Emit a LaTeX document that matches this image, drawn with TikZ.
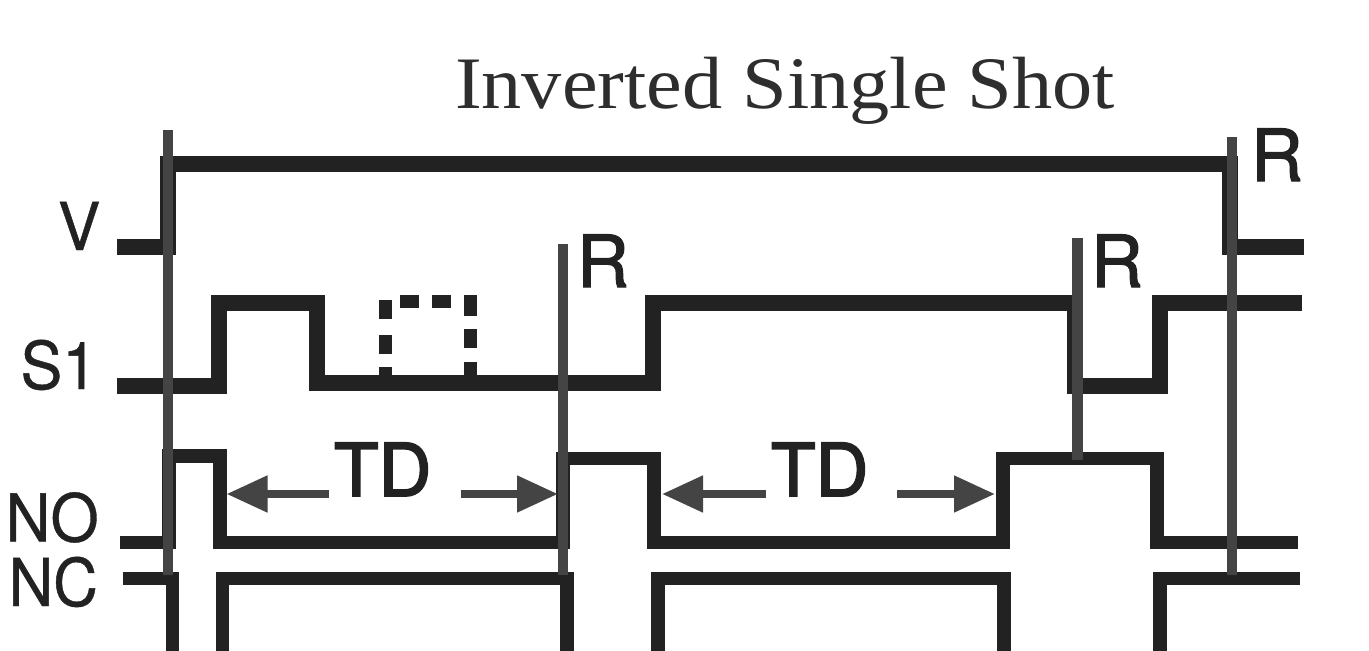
\documentclass[tikz,border=0pt]{standalone}
\usepackage{graphicx}
\usepackage{fontspec}
\setmainfont{Liberation Serif}
\newfontfamily\heros[FakeBold=0.6]{TeX Gyre Heros}
\newfontfamily\herosb[FakeBold=1.6]{TeX Gyre Heros}
\newfontfamily\herosc[FakeBold=2.4]{TeX Gyre Heros}
\usetikzlibrary{arrows.meta}
\definecolor{wave}{HTML}{222222}
\definecolor{mark}{HTML}{444444}
\tikzset{
  wavepath/.style={draw=wave,line width=16pt,miter limit=10},
  wavethin/.style={draw=wave,line width=13.5pt,miter limit=10},
  dotseg/.style={draw=wave,line width=13pt},
  resetline/.style={draw=mark,line width=10.5pt},
  tdarrow/.style={draw=mark,line width=8pt,-{Triangle[length=41pt,width=35pt]},fill=mark},
  lab/.style={inner sep=0pt,outer sep=0pt,anchor=base west,text=wave},
}
\begin{document}
\begin{tikzpicture}[x=1pt,y=-1pt]
\useasboundingbox (0,0) rectangle (1369,651);
\fill[white] (0,0) rectangle (1369,651);
% waveforms
\draw[wavepath] (117,246.7) -- (168,246.7) -- (168,164) -- (1229.6,164) -- (1229.6,246.7) -- (1304,246.7);
\draw[wavepath] (117,385.5) -- (218.7,385.5) -- (218.7,303) -- (317,303) -- (317,383) -- (653,383) -- (653,303) -- (1074.7,303) -- (1074.7,385.5) -- (1160,385.5) -- (1160,303) -- (1301.7,303);
\draw[wavethin] (120,542.5) -- (169,542.5) -- (169,456) -- (220,456) -- (220,542.5) -- (563,542.5) -- (563,458.5) -- (654,458.5) -- (654,542.5) -- (1003,542.5) -- (1003,458.5) -- (1157,458.5) -- (1157,542.5) -- (1298,542.5);
\draw[wavethin] (122.5,578.5) -- (172.5,578.5) -- (172.5,651);
\draw[wavethin] (222.5,651) -- (222.5,578.5) -- (567,578.5) -- (567,651);
\draw[wavethin] (658,651) -- (658,578.5) -- (1004,578.5) -- (1004,651);
\draw[wavethin] (1160,651) -- (1160,578.5) -- (1300,578.5);
% dotted pulse
\draw[dotseg] (385.3,380) -- (385.3,367);
\draw[dotseg] (385.3,353.7) -- (385.3,335);
\draw[dotseg] (385.3,319) -- (385.3,300.3);
\draw[dotseg] (400,301.5) -- (418.7,301.5);
\draw[dotseg] (432.3,301.5) -- (450.7,301.5);
\draw[dotseg] (470.8,295) -- (470.8,316);
\draw[dotseg] (470.8,329.3) -- (470.8,348);
\draw[dotseg] (470.8,361.7) -- (470.8,377);
% reset lines
\draw[resetline] (168,130) -- (168,575);
\draw[resetline] (563,244.3) -- (563,575);
\draw[resetline] (1077.3,238) -- (1077.3,460);
\draw[resetline] (1232,137.3) -- (1232,575);
% TD arrows
\coordinate (a1s) at (329,494); \coordinate (a1t) at (226.5,494);
\coordinate (a2s) at (460.8,494); \coordinate (a2t) at (558,494);
\coordinate (a3s) at (766,494); \coordinate (a3t) at (662,494);
\coordinate (a4s) at (897,494); \coordinate (a4t) at (995,494);
\draw[tdarrow] (a1s) -- (a1t);
\draw[tdarrow] (a2s) -- (a2t);
\draw[tdarrow] (a3s) -- (a3t);
\draw[tdarrow] (a4s) -- (a4t);
% text
\node[lab,text=black!82] (title) at (455,108) {\scalebox{1.085}[1]{\fontsize{74}{74}\selectfont Inverted Single Shot}};
\node[lab] (lv) at (58,250) {\scalebox{0.96}[1]{\heros\fontsize{66}{66}\selectfont V}};
\node[lab] (ls) at (20.5,389) {\scalebox{0.95}[1]{\heros\fontsize{66}{66}\selectfont S1}};
\node[lab] (lno) at (5.7,541.5) {\scalebox{0.94}[1]{\heros\fontsize{66}{66}\selectfont NO}};
\node[lab] (lnc) at (8.6,606) {\scalebox{0.94}[1]{\heros\fontsize{66}{66}\selectfont NC}};
\node[lab] (r1) at (577,287) {\herosb\fontsize{72}{72}\selectfont R};
\node[lab] (r2) at (1091,287) {\herosb\fontsize{72}{72}\selectfont R};
\node[lab] (r3) at (1251,181) {\herosb\fontsize{72}{72}\selectfont R};
\node[lab] (td1) at (334,496) {\herosc\fontsize{73}{73}\selectfont TD};
\node[lab] (td2) at (771,496) {\herosc\fontsize{73}{73}\selectfont TD};
\end{tikzpicture}
\end{document}
